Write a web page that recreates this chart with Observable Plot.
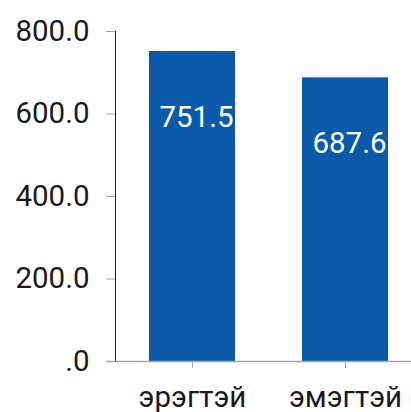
<!DOCTYPE html>
<html>
<head>
<meta charset="utf-8">
<script src="https://cdn.jsdelivr.net/npm/d3@7"></script>
<script src="https://cdn.jsdelivr.net/npm/@observablehq/plot@0.6"></script>
<style>
  html, body { margin: 0; padding: 0; background: #fff; overflow: hidden; }
</style>
</head>
<body>
<div id="chart"></div>
<script>
const categories = ["эрэгтэй", "эмэгтэй"];
const values = [751.5, 687.6];
const yTicks = [0, 200, 400, 600, 800];

const data = categories.map((c, i) => ({category: c, value: values[i]}));
const fmt = d => d3.format(".1f")(d).replace(/^0\./, ".");

const chart = Plot.plot({
  width: 411,
  height: 412,
  marginLeft: 115,
  marginRight: 0,
  marginTop: 31,
  marginBottom: 51,
  style: {fontFamily: "Roboto, sans-serif", fontSize: "29.5px", color: "#1a1a1a", background: "#fff"},
  x: {domain: categories, paddingInner: 0.435, paddingOuter: 0.179, align: 0.6, label: null, tickSize: 7, tickPadding: 18},
  y: {domain: [0, 800], ticks: yTicks, tickFormat: fmt, label: null, tickSize: 9, tickPadding: 17, line: true},
  marks: [
    Plot.barY(data, {x: "category", y: "value", fill: "#0b5aa9"}),
    Plot.ruleY([0], {stroke: "#a6a6a6", strokeWidth: 1.5, insetLeft: -9}),
    Plot.text(data, {x: "category", y: "value", text: d => fmt(d.value), fill: "#fff", dy: 66, dx: 4, fontSize: 29.5})
  ]
});
chart.querySelectorAll('[aria-label="y-axis tick"], [aria-label="x-axis tick"], [aria-label="y-axis line"]').forEach(g => g.setAttribute("stroke", "#a6a6a6"));
document.getElementById("chart").appendChild(chart);
</script>
</body>
</html>
